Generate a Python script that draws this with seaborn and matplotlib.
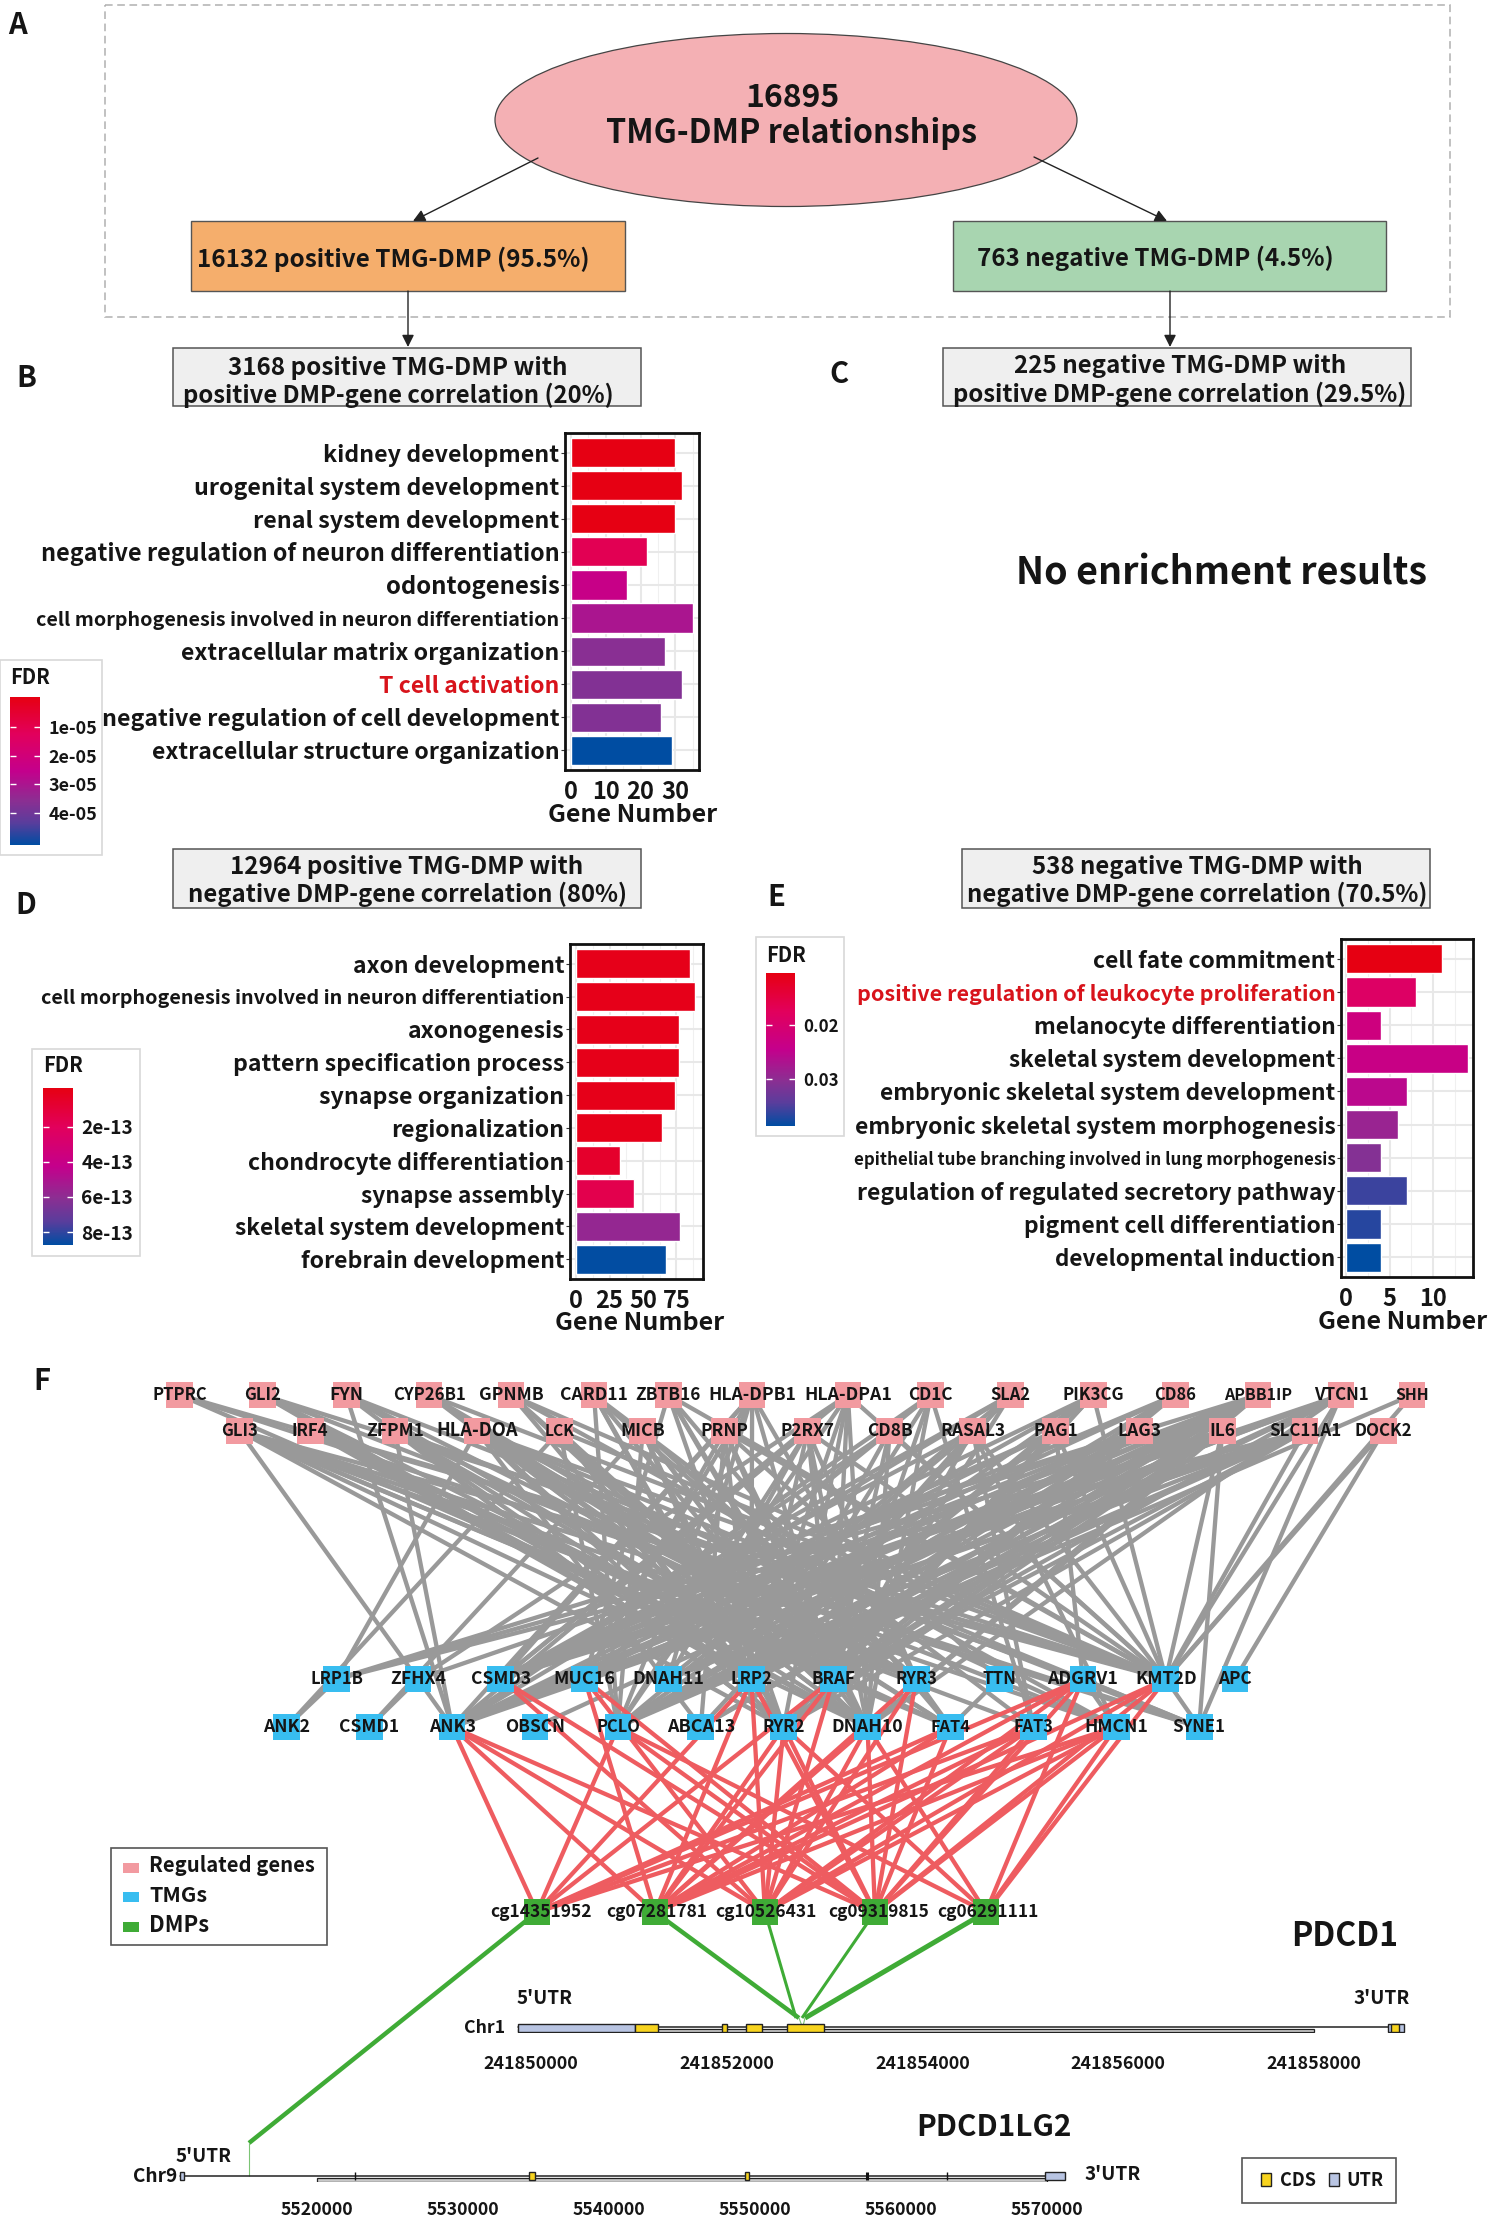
import matplotlib
matplotlib.use("Agg")
import matplotlib.pyplot as plt
from matplotlib import font_manager as fm
from matplotlib.colors import LinearSegmentedColormap, Normalize
from matplotlib.cm import ScalarMappable
from matplotlib.collections import LineCollection
from matplotlib.patches import Rectangle, Ellipse
from matplotlib.ticker import MultipleLocator
import pandas as pd
import seaborn as sns

W, H = 1488, 2217


def bold_family():
    for fam in ["Noto Sans CJK SC", "Noto Sans CJK JP", "Open Sans", "Noto Sans", "Lato", "Roboto", "Inter", "Liberation Sans"]:
        for f in fm.fontManager.ttflist:
            if f.name == fam and (f.weight == "bold" or (isinstance(f.weight, int) and f.weight >= 600)):
                return fam
    return "DejaVu Sans"


FONT = bold_family()

# ---------- Enrichment data ----------
terms_b = ["kidney development", "urogenital system development", "renal system development",
           "negative regulation of neuron differentiation", "odontogenesis",
           "cell morphogenesis involved in neuron differentiation", "extracellular matrix organization",
           "T cell activation", "negative regulation of cell development", "extracellular structure organization"]
counts_b = [30, 32, 30, 22, 16, 35, 27, 32, 26, 29]
fdr_b = [1e-7, 1e-7, 1e-7, 1.1e-5, 2.4e-5, 3.0e-5, 3.6e-5, 3.7e-5, 3.7e-5, 5.1e-5]

terms_d = ["axon development", "cell morphogenesis involved in neuron differentiation", "axonogenesis",
           "pattern specification process", "synapse organization", "regionalization",
           "chondrocyte differentiation", "synapse assembly", "skeletal system development",
           "forebrain development"]
counts_d = [85, 89, 77, 77, 74, 64, 33, 43, 78, 67]
fdr_d = [1e-15, 1e-15, 1e-15, 1e-15, 1e-15, 1e-15, 0.6e-13, 1.6e-13, 5.8e-13, 8.7e-13]

terms_e = ["cell fate commitment", "positive regulation of leukocyte proliferation",
           "melanocyte differentiation", "skeletal system development",
           "embryonic skeletal system development", "embryonic skeletal system morphogenesis",
           "epithelial tube branching involved in lung morphogenesis",
           "regulation of regulated secretory pathway", "pigment cell differentiation",
           "developmental induction"]
counts_e = [11, 8, 4, 14, 7, 6, 4, 7, 4, 4]
fdr_e = [0.0103, 0.0185, 0.0225, 0.0235, 0.0255, 0.029, 0.031, 0.036, 0.037, 0.0388]

red_terms = ["T cell activation", "positive regulation of leukocyte proliferation"]

# ---------- Network data ----------
reg_row1 = ["PTPRC", "GLI2", "FYN", "CYP26B1", "GPNMB", "CARD11", "ZBTB16", "HLA-DPB1", "HLA-DPA1",
            "CD1C", "SLA2", "PIK3CG", "CD86", "APBB1IP", "VTCN1", "SHH"]
reg_row2 = ["GLI3", "IRF4", "ZFPM1", "HLA-DOA", "LCK", "MICB", "PRNP", "P2RX7", "CD8B", "RASAL3",
            "PAG1", "LAG3", "IL6", "SLC11A1", "DOCK2"]
tmg_row1 = ["LRP1B", "ZFHX4", "CSMD3", "MUC16", "DNAH11", "LRP2", "BRAF", "RYR3", "TTN", "ADGRV1", "KMT2D", "APC"]
tmg_row2 = ["ANK2", "CSMD1", "ANK3", "OBSCN", "PCLO", "ABCA13", "RYR2", "DNAH10", "FAT4", "FAT3", "HMCN1", "SYNE1"]
dmps = ["cg14351952", "cg07281781", "cg10526431", "cg09319815", "cg06291111"]

gray_links = {
    "PTPRC": "KMT2D SYNE1 BRAF",
    "GLI2": "KMT2D DNAH10 BRAF LRP2 HMCN1",
    "FYN": "ANK3 RYR3 BRAF SYNE1 RYR2",
    "CYP26B1": "KMT2D DNAH10 RYR3 BRAF FAT4",
    "GPNMB": "KMT2D BRAF LRP2 HMCN1 DNAH10",
    "CARD11": "PCLO RYR3 LRP2 BRAF RYR2 FAT3",
    "ZBTB16": "KMT2D BRAF DNAH10 RYR2 MUC16 FAT4",
    "HLA-DPB1": "CSMD3 MUC16 LRP2 BRAF RYR3 PCLO ANK3 DNAH11",
    "HLA-DPA1": "PCLO CSMD3 BRAF LRP2 KMT2D DNAH10 RYR2 ZFHX4",
    "CD1C": "ANK3 MUC16 LRP2 BRAF DNAH10 FAT3",
    "SLA2": "CSMD3 ANK3 LRP2 BRAF ABCA13 DNAH11",
    "PIK3CG": "CSMD3 PCLO MUC16 BRAF LRP2 KMT2D RYR2",
    "CD86": "ANK3 CSMD3 PCLO LRP2 BRAF",
    "APBB1IP": "LRP1B ANK3 CSMD3 MUC16 PCLO DNAH11 LRP2 BRAF RYR2 DNAH10 ABCA13 OBSCN",
    "VTCN1": "SYNE1 CSMD3 ANK3 MUC16 PCLO LRP2 BRAF DNAH10 KMT2D",
    "SHH": "KMT2D LRP2",
    "GLI3": "ANK3 KMT2D SYNE1 HMCN1 DNAH10 BRAF FAT3 FAT4 RYR3 RYR2",
    "IRF4": "KMT2D BRAF LRP2 DNAH10 FAT4",
    "ZFPM1": "ANK3 RYR3 BRAF RYR2 DNAH10 ADGRV1 LRP2",
    "HLA-DOA": "LRP1B KMT2D SYNE1 BRAF DNAH10 LRP2 RYR3 FAT4 HMCN1 RYR2 ABCA13",
    "LCK": "ANK2 KMT2D BRAF LRP2 DNAH10 RYR2 PCLO",
    "MICB": "CSMD1 BRAF LRP2 RYR2 DNAH10 RYR3 PCLO",
    "PRNP": "MUC16 LRP2 BRAF KMT2D DNAH10 ABCA13 TTN",
    "P2RX7": "ANK3 LRP2 BRAF DNAH10 KMT2D PCLO CSMD3 DNAH11 RYR3",
    "CD8B": "MUC16 LRP2 BRAF DNAH10 KMT2D ANK3",
    "RASAL3": "CSMD3 BRAF KMT2D LRP2 HMCN1 PCLO FAT3",
    "PAG1": "ANK3 CSMD3 LRP2 BRAF KMT2D RYR2 ADGRV1",
    "LAG3": "ZFHX4 CSMD3 ANK3 PCLO LRP2 BRAF DNAH11 RYR2",
    "IL6": "LRP1B CSMD3 MUC16 ANK3 PCLO ABCA13 LRP2 BRAF DNAH10 KMT2D SYNE1 RYR2",
    "SLC11A1": "LRP1B ANK3 CSMD3 MUC16 PCLO LRP2 BRAF KMT2D RYR2 DNAH11",
    "DOCK2": "APC KMT2D",
}
extra_links = {"LRP1B": "ANK2", "ZFHX4": "CSMD1", "ADGRV1": "HMCN1 SYNE1", "KMT2D": "SYNE1", "RYR3": "FAT4", "TTN": "FAT4"}

red_links = {
    "ANK3": "cg14351952 cg07281781 cg10526431 cg09319815",
    "CSMD3": "cg10526431 cg09319815",
    "MUC16": "cg09319815 cg10526431 cg07281781",
    "PCLO": "cg14351952 cg09319815 cg06291111",
    "LRP2": "cg14351952 cg07281781 cg10526431 cg09319815",
    "RYR2": "cg07281781 cg10526431 cg09319815 cg06291111",
    "BRAF": "cg14351952 cg07281781 cg10526431",
    "DNAH10": "cg07281781 cg10526431 cg09319815 cg06291111",
    "RYR3": "cg07281781 cg10526431 cg09319815",
    "FAT4": "cg07281781 cg09319815 cg14351952",
    "ADGRV1": "cg14351952 cg07281781 cg10526431 cg09319815 cg06291111",
    "FAT3": "cg07281781 cg10526431 cg09319815 cg14351952",
    "KMT2D": "cg07281781 cg10526431 cg09319815 cg06291111",
    "HMCN1": "cg14351952 cg07281781 cg10526431 cg09319815 cg06291111",
}

# ---------- Gene model data ----------
chr1_ticks = [241850000, 241852000, 241854000, 241856000, 241858000]
chr1_utr = [(241849864, 241851058), (241858759, 241858921)]
chr1_cds = [(241851058, 241851293), (241851953, 241851998), (241852197, 241852359),
            (241852612, 241852992), (241858790, 241858870)]
chr1_end = [241849864, 241858921]
chr9_ticks = [5520000, 5530000, 5540000, 5550000, 5560000, 5570000]
chr9_utr = [(5510606, 5510900), (5569879, 5571273)]
chr9_cds = [(5534550, 5534950), (5549300, 5549600)]
chr9_marks = [5522606, 5557697, 5563151]
chr9_end = [5510606, 5569879]

cmap = LinearSegmentedColormap.from_list(
    "fdr", [(0, "#E60012"), (0.25, "#E2005C"), (0.5, "#C4008C"), (0.7, "#8C2E92"), (0.85, "#5A3D9C"), (1, "#004DA2")])

sns.set_theme(style="white")
plt.rcParams["font.family"] = [FONT, "DejaVu Sans"]
plt.rcParams["font.weight"] = "bold"

fig = plt.figure(figsize=(W / 100, H / 100), dpi=100, facecolor="white")


def px_axes(x0, y0, x1, y1, **kw):
    return fig.add_axes([x0 / W, 1 - y1 / H, (x1 - x0) / W, (y1 - y0) / H], **kw)


ov = px_axes(0, 0, W, H)
ov.set_zorder(0)
ov.patch.set_alpha(0)
ov.axis("off")

fit_jobs = []


def txt(x, y, s, size=14, width=None, color="#151515", ha="center", va="center", weight="bold", z=20):
    t = ov.text(x, y, s, fontsize=size, color=color, ha=ha, va=va, fontweight=weight, zorder=z)
    if width:
        fit_jobs.append((t, width))
    return t


# ---------- Panel A ----------
for lab, x, y in [("A", 17, 25), ("B", 26, 378), ("C", 839, 374), ("D", 26, 905), ("E", 776, 897), ("F", 42, 1381)]:
    txt(x, y, lab, size=21)

ov.add_patch(Rectangle((105, 5), 1345, 312, fill=False, ec="#B0B0B0", lw=1.1, ls=(0, (5, 3))))
ov.add_patch(Ellipse((786, 120), 582, 173, fc="#F4B0B4", ec="#444444", lw=0.9))
txt(792, 98, "16895", size=20, width=94)
txt(792, 134, "TMG-DMP relationships", size=20, width=372)

ov.add_patch(Rectangle((191, 221), 434, 70, fc="#F5AE6C", ec="#555555", lw=1))
ov.add_patch(Rectangle((953, 221), 433, 70, fc="#A8D5B0", ec="#555555", lw=1))
txt(393, 259, "16132 positive TMG-DMP (95.5%)", size=15, width=393)
txt(1155, 258, "763 negative TMG-DMP (4.5%)", size=15, width=357)

arrows = [((538, 158), (413, 221)), ((1034, 157), (1167, 221)), ((408, 291), (408, 347)), ((1170, 291), (1170, 347))]
for a, b in arrows:
    ov.annotate("", xy=b, xytext=a, xycoords="data",
                arrowprops=dict(arrowstyle="-|>", color="#222222", lw=1, mutation_scale=18, shrinkA=0, shrinkB=0))

grey_boxes = [
    (173, 348, 468, 58, 398, 368, 395, "3168 positive TMG-DMP with", 340, "positive DMP-gene correlation (20%)", 432),
    (943, 348, 468, 58, 1180, 366, 394, "225 negative TMG-DMP with", 333, "positive DMP-gene correlation (29.5%)", 455),
    (173, 849, 468, 59, 407, 867, 894, "12964 positive TMG-DMP with", 354, "negative DMP-gene correlation (80%)", 440),
    (962, 849, 468, 59, 1197, 867, 894, "538 negative TMG-DMP with", 332, "negative DMP-gene correlation (70.5%)", 462),
]
for x, y, w_, h_, cx, y1, y2, s1, w1, s2, w2 in grey_boxes:
    ov.add_patch(Rectangle((x, y), w_, h_, fc="#EFEFEF", ec="#555555", lw=1.1))
    txt(cx, y1, s1, size=14, width=w1)
    txt(cx, y2, s2, size=14, width=w2)

txt(1221, 573, "No enrichment results", size=24, width=411)


# ---------- Bar panels ----------
def bar_panel(box, terms, counts, fdr, norm, ticks, minor, xlim, left_edges, right_edge, gene_x, tick_y):
    ax = px_axes(*box)
    ax.set_zorder(3)
    df = pd.DataFrame({"term": terms, "count": counts, "fdr": fdr})
    colours = [cmap(norm(v)) for v in fdr]
    ax.set_axisbelow(True)
    sns.barplot(data=df, x="count", y="term", hue="term", palette=colours, dodge=False, legend=False,
                width=0.88, saturation=1, orient="h", ax=ax)
    ax.set_xlim(*xlim)
    ax.set_ylim(9.6, -0.6)
    ax.set_xticks(ticks)
    ax.xaxis.set_minor_locator(MultipleLocator(minor))
    ax.grid(True, which="major", color="#E8E8E8", lw=1.5)
    ax.grid(True, which="minor", axis="x", color="#F0F0F0", lw=0.8)
    ax.set_xlabel("")
    ax.set_ylabel("")
    ax.tick_params(axis="x", which="major", length=3, width=0.8, color="#333333", pad=4, labelsize=17, labelcolor="#151515")
    ax.tick_params(axis="x", which="minor", length=0)
    ax.tick_params(axis="y", length=3, width=0.8, color="#333333", pad=1, labelsize=14, labelcolor="#151515", left=True)
    for sp in ax.spines.values():
        sp.set_visible(True)
        sp.set_color("#111111")
        sp.set_linewidth(2)
    for lab, le in zip(ax.get_yticklabels(), left_edges):
        lab.set_fontweight("bold")
        if lab.get_text() in red_terms:
            lab.set_color("#D8131B")
        fit_jobs.append((lab, right_edge - le))
    for lab in ax.get_xticklabels():
        lab.set_fontweight("bold")
    txt(gene_x, tick_y, "Gene Number", size=15, width=169)
    return ax


def fdr_legend(box, cbar, norm, ticks, tick_labels, title_xy, tick_w):
    x0, y0, x1, y1 = box
    ov.add_patch(Rectangle((x0, y0), x1 - x0, y1 - y0, fc="white", ec="#D8D8D8", lw=1.2, zorder=5))
    cax = px_axes(*cbar)
    cax.set_zorder(4)
    cb = fig.colorbar(ScalarMappable(norm=norm, cmap=cmap), cax=cax)
    cb.outline.set_visible(False)
    cb.set_ticks(ticks)
    cb.set_ticklabels(tick_labels)
    cax.invert_yaxis()
    cax.tick_params(axis="y", length=0, pad=6, labelsize=10.5, labelcolor="#151515")
    for lab in cax.get_yticklabels():
        lab.set_fontweight("bold")
        fit_jobs.append((lab, tick_w))
    cax.hlines(ticks, 0, 0.2, color="white", lw=1)
    cax.hlines(ticks, 0.8, 1, color="white", lw=1)
    txt(title_xy[0], title_xy[1], "FDR", size=13.5, width=40, ha="left")


norm_b = Normalize(-0.03e-5, 5.1e-5)
norm_d = Normalize(-0.2e-13, 8.74e-13)
norm_e = Normalize(0.0102, 0.0389)

bar_panel((565, 433, 699, 770), terms_b, counts_b, fdr_b, norm_b, [0, 10, 20, 30], 5, (-1.7, 36.8),
          [324, 195, 254, 42, 385, 36, 182, 380, 102, 152], 560, 633, 815)
bar_panel((570, 944, 703, 1279), terms_d, counts_d, fdr_d, norm_d, [0, 25, 50, 75], 12.5, (-4.5, 94.8),
          [353, 40, 408, 234, 320, 392, 249, 362, 235, 302], 565, 640, 1323)
bar_panel((1341, 939, 1473, 1277), terms_e, counts_e, fdr_e, norm_e, [0, 5, 10], 2.5, (-0.57, 14.56),
          [1094, 858, 1034, 1009, 880, 854, 856, 857, 1025, 1055], 1336, 1403, 1322)

fdr_legend((0, 660, 102, 855), (10, 697, 40, 845), norm_b, [1e-5, 2e-5, 3e-5, 4e-5], ["1e-05", "2e-05", "3e-05", "4e-05"], (10, 678), 49)
fdr_legend((32, 1049, 140, 1256), (43, 1088, 73, 1245), norm_d, [2e-13, 4e-13, 6e-13, 8e-13], ["2e-13", "4e-13", "6e-13", "8e-13"], (43, 1065), 52)
fdr_legend((756, 937, 844, 1136), (766, 973, 795, 1126), norm_e, [0.02, 0.03], ["0.02", "0.03"], (766, 955), 35)

# ---------- Network layout ----------
zx = lambda z: 100 + z / 1.17
row_layout = [
    (reg_row1, 1395, [93, 190, 288, 385, 481, 578, 665, 763, 875, 972, 1065, 1162, 1258, 1355, 1452, 1535]),
    (reg_row2, 1431, [163, 246, 345, 441, 538, 635, 731, 828, 924, 1021, 1118, 1216, 1313, 1410, 1502]),
    (tmg_row1, 1679, [277, 372, 469, 567, 665, 762, 858, 955, 1052, 1150, 1247, 1328]),
    (tmg_row2, 1727, [218, 315, 412, 509, 606, 703, 800, 898, 995, 1092, 1189, 1286]),
]
pos = {}
for names, y, zs in row_layout:
    for n, z in zip(names, zs):
        pos[n] = (zx(z), y)
for n, x in zip(dmps, [537, 655, 765, 875, 986]):
    pos[n] = (x, 1912)

gray_seg = []
for src, targets in gray_links.items():
    gray_seg += [(pos[src], pos[t]) for t in targets.split()]
for src, targets in extra_links.items():
    gray_seg += [(pos[src], pos[t]) for t in targets.split()]
red_seg = []
for src, targets in red_links.items():
    red_seg += [(pos[src], pos[t]) for t in targets.split()]
ov.add_collection(LineCollection(gray_seg, colors="#999999", linewidths=3.1, zorder=2))
ov.add_collection(LineCollection(red_seg, colors="#EE5C60", linewidths=3.1, zorder=2))

chr1_hit = [(799, 2018), (796, 2018), (802, 2018), (805, 2018)]
green_seg = [(pos[dmps[0]], (249, 2143))]
green_seg += [(pos[d], e) for d, e in zip(dmps[1:], chr1_hit)]
ov.add_collection(LineCollection(green_seg, colors="#3FAB36", linewidths=[3.2, 3.2, 2.2, 2.2, 3.6], zorder=2))
thin = [((249, 2143), (249, 2176)), ((799, 2018), (802, 2026)), ((805, 2018), (803, 2026))]
ov.add_collection(LineCollection(thin, colors="#7CC474", linewidths=0.8, zorder=2))

nodes = pd.DataFrame(
    [(n, *pos[n], "Regulated genes") for n in reg_row1 + reg_row2]
    + [(n, *pos[n], "TMGs") for n in tmg_row1 + tmg_row2]
    + [(n, *pos[n], "DMPs") for n in dmps],
    columns=["name", "x", "y", "group"])
node_pal = {"Regulated genes": "#F29AA0", "TMGs": "#38BDF0", "DMPs": "#3FAB36"}
sns.scatterplot(data=nodes, x="x", y="y", hue="group", palette=node_pal, marker="s", s=370, linewidth=0,
                legend=False, ax=ov, zorder=3)
ov.set_xlabel("")
ov.set_ylabel("")
label_w = {"PTPRC": 55, "GLI2": 37, "FYN": 34, "CYP26B1": 73, "GPNMB": 65, "CARD11": 68, "ZBTB16": 65,
           "HLA-DPB1": 88, "HLA-DPA1": 88, "CD1C": 45, "SLA2": 40, "PIK3CG": 62, "CD86": 42, "APBB1IP": 68,
           "VTCN1": 55, "SHH": 34, "GLI3": 37, "IRF4": 37, "ZFPM1": 58, "HLA-DOA": 82, "LCK": 30, "MICB": 45,
           "PRNP": 48, "P2RX7": 54, "CD8B": 46, "RASAL3": 65, "PAG1": 45, "LAG3": 44, "IL6": 26, "SLC11A1": 72,
           "DOCK2": 58, "LRP1B": 53, "ZFHX4": 56, "CSMD3": 60, "MUC16": 62, "DNAH11": 72, "LRP2": 42, "BRAF": 44,
           "RYR3": 42, "TTN": 34, "ADGRV1": 71, "KMT2D": 62, "APC": 34, "ANK2": 47, "CSMD1": 60, "ANK3": 47,
           "OBSCN": 60, "PCLO": 44, "ABCA13": 68, "RYR2": 43, "DNAH10": 72, "FAT4": 40, "FAT3": 40, "HMCN1": 64,
           "SYNE1": 53}
for n in reg_row1 + reg_row2 + tmg_row1 + tmg_row2:
    txt(pos[n][0], pos[n][1], n, size=11.5, width=label_w[n], z=6)
for n, x in zip(dmps, [541, 657, 766, 879, 988]):
    txt(x, 1912, n, size=11.5, width=101, z=6)

# network legend
ov.add_patch(Rectangle((111, 1848), 216, 97, fc="white", ec="#555555", lw=1.2, zorder=5))
for (lab, col), y, w_ in zip(node_pal.items(), [1868, 1897, 1927], [166, 58, 60]):
    ov.add_patch(Rectangle((123, y - 5), 16, 10, fc=col, ec="none", zorder=6))
    txt(149, y - 2, lab, size=13, width=w_, ha="left", z=6)

txt(1345, 1937, "PDCD1", size=20, width=107)
txt(994, 2127, "PDCD1LG2", size=20, width=155)


# ---------- Gene models ----------
def gene_track(box, glim, ticks, end, utr, cds, band, backbone_y, box_y, tick_len, label_w_):
    ax = px_axes(*box)
    ax.set_zorder(3)
    ax.patch.set_alpha(0)
    ax.set_xlim(*glim)
    ax.set_ylim(box[3], box[1])
    ax.set_yticks([])
    for sp in ax.spines.values():
        sp.set_visible(False)
    ax.set_xticks(ticks)
    ax.set_xticklabels([str(t) for t in ticks])
    ax.tick_params(axis="x", length=tick_len, width=0.9, color="#222222", pad=8, labelsize=11.5, labelcolor="#151515")
    for lab in ax.get_xticklabels():
        lab.set_fontweight("bold")
        fit_jobs.append((lab, label_w_))
    ax.add_patch(Rectangle((band[0], box[3] - 4), band[1] - band[0], 3.5, fc="#C8C8C8", ec="#222222", lw=0.9))
    ax.plot(end, [backbone_y, backbone_y], color="#222222", lw=1.1)
    for a, b in utr:
        ax.add_patch(Rectangle((a, box_y[0]), b - a, box_y[1] - box_y[0], fc="#B8C4E2", ec="#222222", lw=1, zorder=3))
    for a, b in cds:
        ax.add_patch(Rectangle((a, box_y[0]), b - a, box_y[1] - box_y[0], fc="#F7D31E", ec="#222222", lw=1, zorder=4))
    return ax


k1 = (1314 - 531) / 8000
g1 = lambda p: 241850000 + (p - 531) / k1
gene_track((500, 2014, 1420, 2033), (g1(500), g1(1420)), chr1_ticks, chr1_end, chr1_utr, chr1_cds,
           (241849864, 241858000), 2027, (2024, 2032), 8, 95)
k9 = (1046.9 - 316.8) / 50000
g9 = lambda p: 5520000 + (p - 316.8) / k9
ax9 = gene_track((170, 2165, 1080, 2182), (g9(170), g9(1080)), chr9_ticks, chr9_end, chr9_utr, chr9_cds,
                 (5520000, 5570000), 2176, (2172, 2180), 6, 73)
ax9.vlines(chr9_marks, 2172, 2180, color="#111111", lw=[1, 2.2, 1])

txt(485, 2028, "Chr1", size=13, width=41)
txt(545, 1998, "5'UTR", size=12, width=56)
txt(1382, 1999, "3'UTR", size=12, width=56)
txt(155, 2176, "Chr9", size=13, width=44)
txt(204, 2156, "5'UTR", size=12, width=56)
txt(1113, 2174, "3'UTR", size=12, width=56)

ov.add_patch(Rectangle((1242, 2158), 154, 45, fc="white", ec="#555555", lw=1.2, zorder=5))
ov.add_patch(Rectangle((1261, 2173), 10, 13, fc="#F7D31E", ec="#222222", lw=1, zorder=6))
ov.add_patch(Rectangle((1329, 2173), 10, 13, fc="#B8C4E2", ec="#222222", lw=1, zorder=6))
txt(1298, 2180, "CDS", size=12, width=36, z=6)
txt(1365, 2180, "UTR", size=12, width=37, z=6)

ov.set_xlim(0, W)
ov.set_ylim(H, 0)

# ---------- Fit text widths ----------
fig.canvas.draw()
r = fig.canvas.get_renderer()
for t, target in fit_jobs:
    cur = t.get_window_extent(r).width
    if cur > 0:
        t.set_fontsize(t.get_fontsize() * target / cur)

fig.savefig("out.png", dpi=100, facecolor="white")
